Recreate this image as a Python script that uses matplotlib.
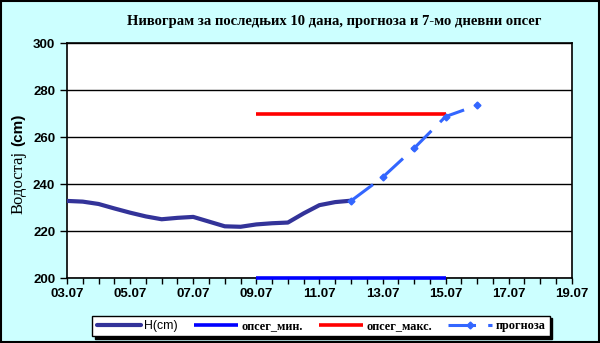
import matplotlib
matplotlib.use("Agg")
import matplotlib.pyplot as plt
from matplotlib.patches import Rectangle

# day index: 0 = 03.07
h_days = [0, 0.5, 1, 1.5, 2, 2.5, 3, 3.5, 4, 4.5, 5, 5.5, 6, 6.5, 7, 7.5, 8, 8.5, 9]
h_vals = [232.8, 232.5, 231.5, 229.6, 227.8, 226.2, 225.0, 225.6, 226.0, 224.0,
          222.0, 221.8, 222.8, 223.3, 223.6, 227.5, 231.0, 232.3, 232.9]

range_days = [6, 12]
range_min = [200, 200]
range_max = [270, 270]

fc_days = [9, 10, 11, 12, 13]
fc_vals = [232.8, 242.8, 255.2, 268.7, 273.5]

tick_days = [0, 2, 4, 6, 8, 10, 12, 14, 16]
tick_labels = ["03.07", "05.07", "07.07", "09.07", "11.07", "13.07", "15.07", "17.07", "19.07"]

bg = "#ccffff"
fig = plt.figure(figsize=(6.0, 3.43), dpi=100, facecolor=bg)
ax = fig.add_axes([0.1117, 0.1895, 0.8413, 0.6851])
ax.set_facecolor("white")

ax.plot(h_days, h_vals, color="#333399", lw=3.0, solid_capstyle="round",
        solid_joinstyle="round", label="H(cm)", zorder=4)
ax.plot(range_days, range_min, color="#0000ff", lw=2.6, label="опсег_мин.",
        solid_capstyle="butt", zorder=3, clip_on=False)
ax.plot(range_days, range_max, color="#ff0000", lw=2.6, label="опсег_макс.",
        solid_capstyle="butt", zorder=3)
ax.plot(fc_days, fc_vals, color="#3366ff", lw=2.2, ls=(0, (9, 4)),
        marker="D", ms=3.5, label="прогноза", zorder=5)

ax.set_xlim(0, 16)
ax.set_ylim(200, 300)
ax.set_yticks(range(200, 301, 20))
ax.set_xticks(tick_days)
ax.set_xticklabels(tick_labels)
ax.set_xticks([i * 0.5 for i in range(33)], minor=True)
ax.tick_params(axis="x", which="both", direction="out", length=4, width=1)
ax.tick_params(axis="y", direction="out", length=5, width=1)
ax.grid(axis="y", color="black", lw=1)
ax.set_axisbelow(True)
for lab in ax.get_xticklabels() + ax.get_yticklabels():
    lab.set_fontfamily("Liberation Sans")
    lab.set_fontweight("bold")
    lab.set_fontsize(9.5)
for s in ax.spines.values():
    s.set_color("black")
    s.set_linewidth(1.2)

# y label: serif word + bold sans unit, as in the original
fig.text(0.031, 0.469, "Водостај", rotation=90, ha="center", va="center",
         family="Liberation Serif", fontsize=12)
fig.text(0.031, 0.621, "(cm)", rotation=90, ha="center", va="center",
         family="Liberation Sans", fontweight="bold", fontsize=11)

fig.text(0.557, 0.938, "Нивограм за последњих 10 дана, прогноза и 7-мо дневни опсег",
         ha="center", va="center", family="Liberation Serif", fontweight="bold",
         fontsize=10.5)

leg = fig.legend(loc="center", bbox_to_anchor=(0.535, 0.05), ncol=4,
                 frameon=True, fancybox=False, shadow={"color": "black", "alpha": 1},
                 edgecolor="black", framealpha=1, borderpad=0.35,
                 handlelength=3.6, columnspacing=1.3, handletextpad=0.3,
                 prop={"family": "Liberation Serif", "weight": "bold", "size": 8.8})
leg.get_frame().set_linewidth(1.0)
leg.get_texts()[0].set_fontfamily("Liberation Sans")
leg.get_texts()[0].set_fontweight("normal")

fig.patches.append(Rectangle((0.001, 0.002), 0.997, 0.995, transform=fig.transFigure,
                             fill=False, edgecolor="black", lw=1.5))

fig.savefig("out.png", dpi=100, facecolor=bg)
